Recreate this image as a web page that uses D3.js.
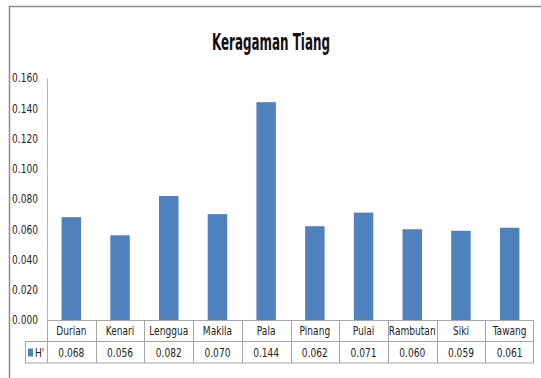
<!DOCTYPE html>
<html>
<head>
<meta charset="utf-8">
<script src="https://cdn.jsdelivr.net/npm/d3@7"></script>
<style>
  body { margin: 0; background: #fff; }
  svg { display: block; }
  text { font-family: "DejaVu Sans Condensed", "Liberation Sans Narrow", sans-serif; fill: #222; }
</style>
</head>
<body>
<svg width="541" height="378"></svg>
<script>
// chart data
var categories = ["Durian", "Kenari", "Lenggua", "Makila", "Pala", "Pinang", "Pulai", "Rambutan", "Siki", "Tawang"];
var hValues = [0.068, 0.056, 0.082, 0.070, 0.144, 0.062, 0.071, 0.060, 0.059, 0.061];
var yTicks = [0, 0.02, 0.04, 0.06, 0.08, 0.10, 0.12, 0.14, 0.16];
var seriesName = "H'";
var title = "Keragaman Tiang";

var svg = d3.select("svg"),
    plotLeft = 47, plotRight = 534, plotTop = 78, base = 320,
    rowH = 21.5,
    squeeze = 0.84; // narrow glyphs, like the original's condensed font

// outer frame (left and top edges visible)
svg.append("path")
    .attr("d", "M9.5,378 V6.5 H541")
    .attr("fill", "none")
    .attr("stroke", "#8c8c8c")
    .attr("stroke-width", 1.5);

// title
svg.append("text")
    .attr("x", 271)
    .attr("y", 50)
    .attr("text-anchor", "middle")
    .attr("textLength", 118)
    .attr("lengthAdjust", "spacingAndGlyphs")
    .style("font-size", "23px")
    .style("font-weight", "bold")
    .style("fill", "#111")
    .text(title);

var x = d3.scaleBand().domain(categories).range([plotLeft, plotRight]).padding(0),
    y = d3.scaleLinear().domain([0, 0.16]).range([base, plotTop]);

var data = categories.map(function(c, i) { return {cat: c, v: hValues[i]}; });

// y axis
var yAxis = svg.append("g")
    .attr("transform", "translate(" + plotLeft + ",0)")
    .call(d3.axisLeft(y).tickValues(yTicks).tickFormat(d3.format(".3f")).tickSize(0).tickPadding(9));
yAxis.select(".domain").attr("stroke", "#b5b5b5");
yAxis.selectAll("text")
    .style("font-size", "12px")
    .style("font-family", "'DejaVu Sans Condensed', sans-serif")
    .style("fill", "#222")
    .attr("transform", "translate(-9,0) scale(" + squeeze + ",1) translate(9,0)");

// bars
var bw = x.bandwidth() * 0.4;
svg.selectAll(".bar")
    .data(data)
    .enter().append("rect")
    .attr("class", "bar")
    .attr("x", function(d) { return x(d.cat) + (x.bandwidth() - bw) / 2; })
    .attr("y", function(d) { return y(d.v); })
    .attr("width", bw)
    .attr("height", function(d) { return base - y(d.v); })
    .attr("fill", "#4f81bd");

// data table
var grid = svg.append("g").attr("stroke", "#a6a6a6").attr("stroke-width", 1).attr("fill", "none");
var legX = 25;
grid.append("line").attr("x1", plotLeft).attr("x2", plotRight).attr("y1", base + 0.5).attr("y2", base + 0.5);
grid.append("line").attr("x1", legX).attr("x2", plotRight).attr("y1", base + rowH).attr("y2", base + rowH);
grid.append("line").attr("x1", legX).attr("x2", plotRight).attr("y1", base + 2 * rowH).attr("y2", base + 2 * rowH);
grid.append("line").attr("x1", legX + 0.5).attr("x2", legX + 0.5).attr("y1", base + rowH).attr("y2", base + 2 * rowH);
grid.selectAll(".sep")
    .data(categories.concat(["end"]))
    .enter().append("line")
    .attr("class", "sep")
    .attr("x1", function(d, i) { return i < categories.length ? Math.round(x(d)) + 0.5 : plotRight - 0.5; })
    .attr("x2", function(d, i) { return i < categories.length ? Math.round(x(d)) + 0.5 : plotRight - 0.5; })
    .attr("y1", base)
    .attr("y2", base + 2 * rowH);

function cellText(cls, yy, fmt) {
  svg.selectAll("." + cls)
      .data(data)
      .enter().append("text")
      .attr("class", cls)
      .attr("transform", function(d) {
        return "translate(" + (x(d.cat) + x.bandwidth() / 2) + "," + yy + ") scale(" + squeeze + ",1)";
      })
      .attr("text-anchor", "middle")
      .style("font-size", "12px")
      .text(fmt);
}
cellText("cat", base + 15, function(d) { return d.cat; });
cellText("val", base + rowH + 15.5, function(d) { return d3.format(".3f")(d.v); });

// legend key inside the table
svg.append("rect")
    .attr("x", 28).attr("y", base + rowH + 7)
    .attr("width", 5).attr("height", 8)
    .attr("fill", "#4f81bd");
svg.append("text")
    .attr("transform", "translate(35," + (base + rowH + 15.5) + ") scale(" + squeeze + ",1)")
    .style("font-size", "12px")
    .text(seriesName);
</script>
</body>
</html>
